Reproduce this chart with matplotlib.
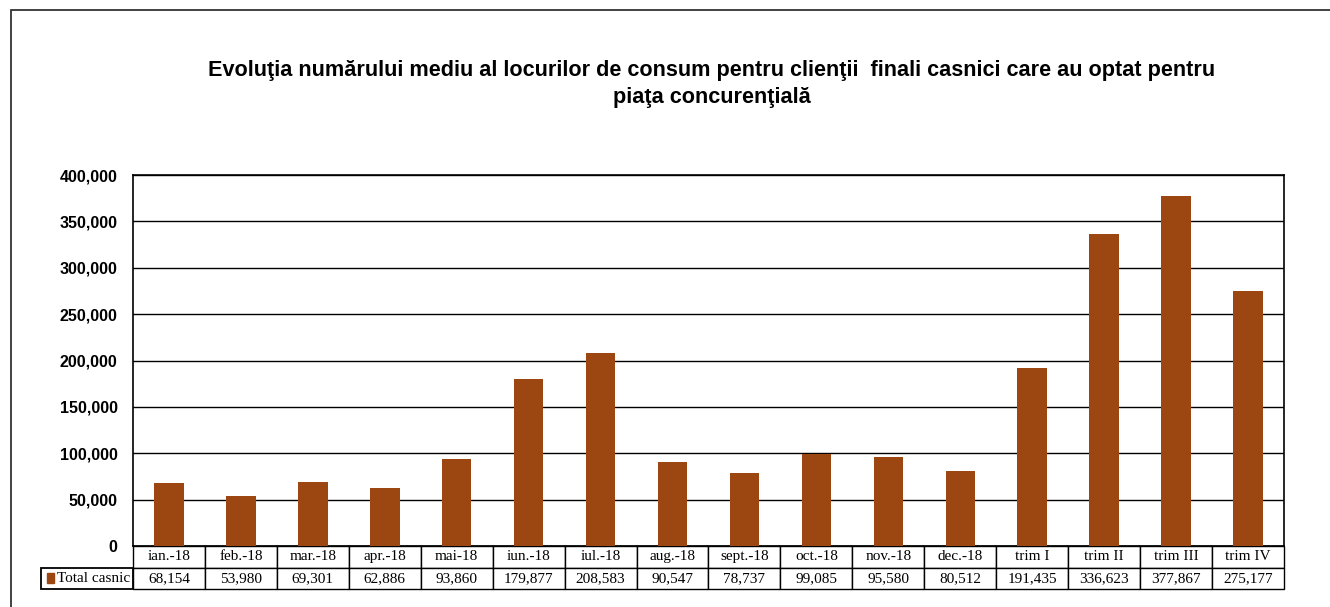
import matplotlib
matplotlib.use("Agg")
import matplotlib.pyplot as plt
from matplotlib.patches import Rectangle
import numpy as np

categories = ["ian.-18", "feb.-18", "mar.-18", "apr.-18", "mai-18", "iun.-18", "iul.-18",
              "aug.-18", "sept.-18", "oct.-18", "nov.-18", "dec.-18",
              "trim I", "trim II", "trim III", "trim IV"]
values = [68154, 53980, 69301, 62886, 93860, 179877, 208583, 90547, 78737, 99085,
          95580, 80512, 191435, 336623, 377867, 275177]
series_name = "Total casnic"
yticks = [0, 50000, 100000, 150000, 200000, 250000, 300000, 350000, 400000]
title = ("Evoluţia numărului mediu al locurilor de consum pentru clienţii  finali casnici care au optat pentru\n"
         "piaţa concurenţială")
bar_color = "#9C4712"

W, H = 1330, 607
fig = plt.figure(figsize=(W / 100, H / 100), dpi=100)
fig.patch.set_facecolor("white")

# outer border
fig.patches.append(Rectangle((11 / W, -0.2), 2, 1 - 10 / H + 0.2, transform=fig.transFigure,
                             fill=False, edgecolor="#333333", lw=1.3, clip_on=False))

ax_l, ax_r, ax_t, ax_b = 133, 1284, 175, 546
axw = ax_r - ax_l
axh = ax_b - ax_t
ax = fig.add_axes([ax_l / W, 1 - ax_b / H, axw / W, axh / H])

x = np.arange(len(categories))
ax.bar(x, values, width=0.41, color=bar_color, zorder=3)
ax.set_xlim(-0.5, len(categories) - 0.5)
ax.set_ylim(0, 400000)
ax.set_yticks(yticks)
ax.set_yticklabels([f"{v:,}" for v in yticks], fontfamily="Liberation Sans",
                   fontweight="bold", fontsize=11.5)
ax.tick_params(axis="y", length=0, pad=11)
ax.set_xticks([])
ax.yaxis.grid(True, color="black", lw=1, zorder=0)
ax.set_axisbelow(True)
for s in ax.spines.values():
    s.set_color("black")
    s.set_linewidth(1.2)

# data table (first column holds the series label)
tab_left = 41
row_h = 21.5
n = len(categories)
label_w = ax_l - tab_left
colw = axw / n
cell_text = [[series_name] + [f"{v:,}" for v in values]]
col_labels = [""] + categories
total_w = label_w + axw
tbl = ax.table(cellText=cell_text, colLabels=col_labels, cellLoc="center",
               colWidths=[label_w / total_w] + [colw / total_w] * n,
               bbox=[-label_w / axw, -2 * row_h / axh, total_w / axw, 2 * row_h / axh])
tbl.auto_set_font_size(False)
for (r, c), cell in tbl.get_celld().items():
    cell.set_linewidth(1.0)
    cell.set_edgecolor("black")
    cell.get_text().set_fontfamily("Liberation Serif")
    cell.get_text().set_fontsize(11)
    if r == 0 and c == 0:
        cell.visible_edges = ""
    if r == 1 and c == 0:
        cell.get_text().set_horizontalalignment("right")
        cell.PAD = 0.03
tbl.get_celld()[(1, 0)].set_linewidth(1.3)

# legend key in the label cell
ax.add_patch(Rectangle(((47 - ax_l) / axw, -(583 - ax_b) / axh),
                       7 / axw, 10 / axh, transform=ax.transAxes,
                       color=bar_color, clip_on=False, zorder=5))

fig.text(712 / W, 1 - 84 / H, title, ha="center", va="center", fontfamily="Liberation Sans",
         fontweight="bold", fontsize=15.6, linespacing=1.32)

fig.savefig("out.png", dpi=100)
